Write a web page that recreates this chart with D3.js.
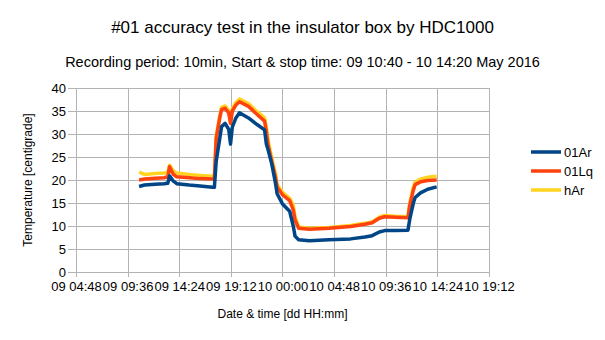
<!DOCTYPE html>
<html><head><meta charset="utf-8">
<script src="https://cdn.jsdelivr.net/npm/d3@7"></script>
<style>body{margin:0;background:#fff}svg{display:block;font-family:"Liberation Sans",Arial,sans-serif}</style>
</head><body><svg id="c" width="605" height="340"></svg>
<script>
const title = "#01 accuracy test in the insulator box by HDC1000";
const subtitle = "Recording period: 10min, Start & stop time: 09 10:40 - 10 14:20 May 2016";
const xTitle = "Date & time [dd HH:mm]";
const yTitle = "Temperature [centigrade]";
const seriesNames = ["01Ar", "01Lq", "hAr"];
const seriesColors = ["#004586", "#ff420e", "#ffd320"];
const xTickLabels = ["09 04:48","09 09:36","09 14:24","09 19:12","10 00:00","10 04:48","10 09:36","10 14:24","10 19:12"];
const yTicks = [0,5,10,15,20,25,30,35,40];
const times = ["09 10:40","09 11:10","09 12:10","09 13:00","09 13:20","09 13:30","09 13:50","09 14:10","09 15:20","09 16:20","09 17:30","09 17:40","09 17:50","09 18:10","09 18:20","09 18:40","09 19:00","09 19:10","09 19:20","09 19:40","09 20:00","09 20:50","09 21:40","09 22:20","09 22:30","09 22:40","09 23:00","09 23:20","09 23:30","10 00:00","10 00:40","10 01:00","10 01:10","10 01:30","10 02:30","10 04:20","10 06:20","10 07:40","10 08:20","10 09:00","10 09:30","10 10:30","10 11:40","10 11:50","10 12:10","10 12:20","10 12:50","10 13:30","10 14:20"];
const ar01 = [18.6,18.9,19.1,19.2,19.3,20.9,19.8,19.2,18.9,18.7,18.4,18.4,24.0,29.0,31.6,32.3,31.0,27.8,31.5,33.5,34.6,33.5,32.0,30.9,27.8,26.5,23.5,19.5,17.0,14.8,13.2,10.0,7.8,7.0,6.8,7.0,7.2,7.6,7.9,8.7,9.0,9.0,9.1,11.5,15.0,16.2,17.2,18.0,18.5];
const lq01 = [20.0,20.2,20.4,20.5,20.7,22.9,21.3,20.7,20.5,20.3,20.2,20.2,29.0,33.5,35.3,35.6,34.6,32.3,35.0,36.3,37.0,36.0,34.2,32.8,30.5,27.5,24.0,20.8,18.5,16.8,15.5,13.5,11.3,9.5,9.3,9.5,9.9,10.4,10.7,11.7,12.0,11.9,11.8,14.5,17.8,19.0,19.6,19.9,20.0];
const hAr = [21.7,21.2,21.4,21.5,21.6,23.2,22.0,21.5,21.2,21.0,20.8,20.8,29.5,34.0,35.8,36.1,35.1,32.6,35.5,36.8,37.6,36.6,34.8,33.5,31.5,28.5,24.8,21.5,19.0,17.3,16.0,14.5,12.0,9.8,9.5,9.7,10.1,10.6,10.9,11.9,12.3,12.1,12.0,15.0,18.5,19.5,20.2,20.6,20.8];
const seriesValues = [ar01, lq01, hAr];

function toHours(s){const [d,hm]=s.split(" ");const [h,m]=hm.split(":").map(Number);return (Number(d)-9)*24+h+m/60;}

const svg = d3.select("#c");
const L=76, R=489, T=88, B=272;
const x = d3.scaleLinear().domain([toHours(xTickLabels[0]), toHours(xTickLabels[xTickLabels.length-1])]).range([L,R]);
const y = d3.scaleLinear().domain([0,40]).range([B,T]);

svg.append("text").attr("x",302.5).attr("y",33).attr("text-anchor","middle").attr("font-size",17).attr("fill","#000").text(title);
svg.append("text").attr("x",302.5).attr("y",67).attr("text-anchor","middle").attr("font-size",14.5).attr("fill","#000").text(subtitle);

const grid = "#b3b3b3";
svg.append("g").selectAll("line").data(yTicks).join("line")
  .attr("x1",L-8).attr("x2",R).attr("y1",d=>y(d)+0.5).attr("y2",d=>y(d)+0.5).attr("stroke",grid);
svg.append("g").selectAll("line").data(xTickLabels).join("line")
  .attr("x1",d=>Math.round(x(toHours(d)))+0.5).attr("x2",d=>Math.round(x(toHours(d)))+0.5)
  .attr("y1",T).attr("y2",B+5).attr("stroke",grid);

const yAxis = d3.axisLeft(y).tickValues(yTicks).tickSize(0).tickPadding(10);
const gy = svg.append("g").attr("transform",`translate(${L},0)`).call(yAxis);
gy.select(".domain").remove();
gy.selectAll("text").attr("font-size",13).attr("font-family","Liberation Sans, Arial, sans-serif").attr("fill","#000");

const xAxis = d3.axisBottom(x).tickValues(xTickLabels.map(toHours)).tickFormat((d,i)=>xTickLabels[i]).tickSize(0).tickPadding(10);
const gx = svg.append("g").attr("transform",`translate(0,${B})`).call(xAxis);
gx.select(".domain").remove();
gx.selectAll("text").attr("font-size",13).attr("font-family","Liberation Sans, Arial, sans-serif").attr("fill","#000");

svg.append("text").attr("x",(L+R)/2).attr("y",318).attr("text-anchor","middle").attr("font-size",12).text(xTitle);
svg.append("text").attr("transform",`translate(32,${(T+B)/2}) rotate(-90)`).attr("text-anchor","middle").attr("font-size",12).text(yTitle);

const line = d3.line().x((d,i)=>x(toHours(times[i]))).y(d=>y(d));
[2,1,0].forEach(k=>{
  svg.append("path").datum(seriesValues[k]).attr("d",line).attr("fill","none")
    .attr("stroke",seriesColors[k]).attr("stroke-width",3.5).attr("stroke-linejoin","round");
});

const lg = svg.append("g");
seriesNames.forEach((n,i)=>{
  const yy = 152 + i*19;
  lg.append("line").attr("x1",531).attr("x2",561).attr("y1",yy).attr("y2",yy).attr("stroke",seriesColors[i]).attr("stroke-width",3.5);
  lg.append("text").attr("x",564).attr("y",yy+4.5).attr("font-size",13).text(n);
});
</script></body></html>
